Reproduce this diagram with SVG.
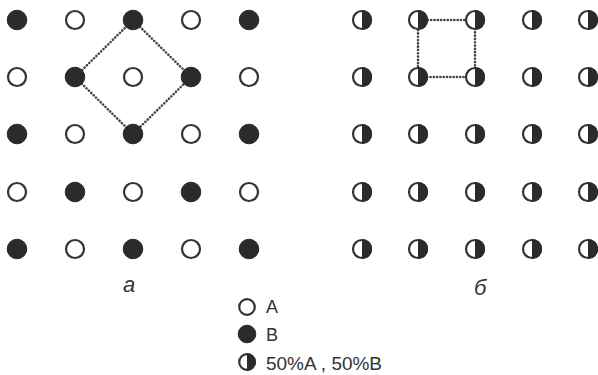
<svg xmlns="http://www.w3.org/2000/svg" xmlns:xlink="http://www.w3.org/1999/xlink" width="598" height="375" viewBox="0 0 598 375">
<style>
.o{fill:#fff;stroke:#333;stroke-width:2.2}
.f{fill:#2b2b2b;stroke:#2b2b2b;stroke-width:1}
.hw{fill:#fff;stroke:#333;stroke-width:2.2}
.hb{fill:#2b2b2b}
.dot{fill:none;stroke:#444;stroke-width:2.6;stroke-dasharray:0.1 3.2;stroke-linecap:round}
.t{font-family:"Liberation Sans",Arial,sans-serif;fill:#333}
</style>
<defs>
<g id="A"><circle r="9" class="o"/></g>
<g id="B"><circle r="9.8" class="f"/></g>
<g id="H"><circle r="9" class="hw"/><path d="M0,-10.1 A10.1,10.1 0 0 1 0,10.1 Z" class="hb"/></g>
</defs>
<rect width="598" height="375" fill="#fff"/>
<g id="connectors">
<polyline class="dot" points="133,20 191,77 133,134 75,77 133,20"/>
<polyline class="dot" points="418,20 475,20 475,77 418,77 418,20"/>
</g>
<g id="grid-a">
<g id="a11"><use xlink:href="#B" x="17" y="20"/></g>
<g id="a12"><use xlink:href="#A" x="75" y="20"/></g>
<g id="a13"><use xlink:href="#B" x="133" y="20"/></g>
<g id="a14"><use xlink:href="#A" x="191" y="20"/></g>
<g id="a15"><use xlink:href="#B" x="249" y="20"/></g>
<g id="a21"><use xlink:href="#A" x="17" y="77"/></g>
<g id="a22"><use xlink:href="#B" x="75" y="77"/></g>
<g id="a23"><use xlink:href="#A" x="133" y="77"/></g>
<g id="a24"><use xlink:href="#B" x="191" y="77"/></g>
<g id="a25"><use xlink:href="#A" x="249" y="77"/></g>
<g id="a31"><use xlink:href="#B" x="17" y="134"/></g>
<g id="a32"><use xlink:href="#A" x="75" y="134"/></g>
<g id="a33"><use xlink:href="#B" x="133" y="134"/></g>
<g id="a34"><use xlink:href="#A" x="191" y="134"/></g>
<g id="a35"><use xlink:href="#B" x="249" y="134"/></g>
<g id="a41"><use xlink:href="#A" x="17" y="192"/></g>
<g id="a42"><use xlink:href="#B" x="75" y="192"/></g>
<g id="a43"><use xlink:href="#A" x="133" y="192"/></g>
<g id="a44"><use xlink:href="#B" x="191" y="192"/></g>
<g id="a45"><use xlink:href="#A" x="249" y="192"/></g>
<g id="a51"><use xlink:href="#B" x="17" y="249"/></g>
<g id="a52"><use xlink:href="#A" x="75" y="249"/></g>
<g id="a53"><use xlink:href="#B" x="133" y="249"/></g>
<g id="a54"><use xlink:href="#A" x="191" y="249"/></g>
<g id="a55"><use xlink:href="#B" x="249" y="249"/></g>
</g>
<g id="grid-b">
<g id="b11"><use xlink:href="#H" x="362" y="20"/></g>
<g id="b12"><use xlink:href="#H" x="418" y="20"/></g>
<g id="b13"><use xlink:href="#H" x="475" y="20"/></g>
<g id="b14"><use xlink:href="#H" x="532" y="20"/></g>
<g id="b15"><use xlink:href="#H" x="588" y="20"/></g>
<g id="b21"><use xlink:href="#H" x="362" y="77"/></g>
<g id="b22"><use xlink:href="#H" x="418" y="77"/></g>
<g id="b23"><use xlink:href="#H" x="475" y="77"/></g>
<g id="b24"><use xlink:href="#H" x="532" y="77"/></g>
<g id="b25"><use xlink:href="#H" x="588" y="77"/></g>
<g id="b31"><use xlink:href="#H" x="362" y="134"/></g>
<g id="b32"><use xlink:href="#H" x="418" y="134"/></g>
<g id="b33"><use xlink:href="#H" x="475" y="134"/></g>
<g id="b34"><use xlink:href="#H" x="532" y="134"/></g>
<g id="b35"><use xlink:href="#H" x="588" y="134"/></g>
<g id="b41"><use xlink:href="#H" x="362" y="192"/></g>
<g id="b42"><use xlink:href="#H" x="418" y="192"/></g>
<g id="b43"><use xlink:href="#H" x="475" y="192"/></g>
<g id="b44"><use xlink:href="#H" x="532" y="192"/></g>
<g id="b45"><use xlink:href="#H" x="588" y="192"/></g>
<g id="b51"><use xlink:href="#H" x="362" y="249"/></g>
<g id="b52"><use xlink:href="#H" x="418" y="249"/></g>
<g id="b53"><use xlink:href="#H" x="475" y="249"/></g>
<g id="b54"><use xlink:href="#H" x="532" y="249"/></g>
<g id="b55"><use xlink:href="#H" x="588" y="249"/></g>
</g>
<g id="captions">
<text class="t" x="123" y="292" font-size="22" font-style="italic">a</text>
<text class="t" x="474" y="295" font-size="22" font-style="italic">б</text>
</g>
<g id="legend">
<g id="leg-a"><circle cx="247" cy="307" r="7.8" class="o"/><text class="t" x="266" y="313" font-size="18">A</text></g>
<g id="leg-b"><circle cx="247" cy="334" r="8.8" class="f"/><text class="t" x="266" y="341" font-size="18">B</text></g>
<g id="leg-h"><circle cx="247" cy="362" r="7.8" class="hw"/><path d="M247,353 A9,9 0 0 1 247,371 Z" class="hb"/><text class="t" x="266" y="370" font-size="18" textLength="116" lengthAdjust="spacingAndGlyphs">50%A , 50%B</text></g>
</g>
</svg>
